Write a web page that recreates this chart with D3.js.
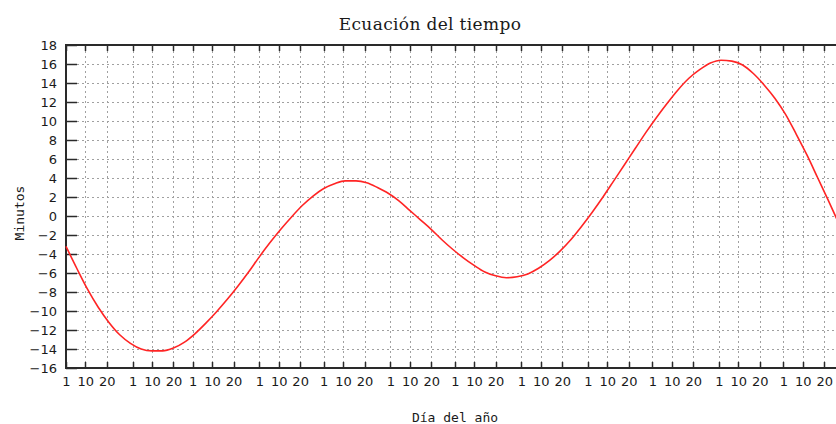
<!DOCTYPE html>
<html>
<head>
<meta charset="utf-8">
<script src="https://cdn.jsdelivr.net/npm/d3@7"></script>
<style>
  html, body { margin: 0; padding: 0; background: #fff; overflow: hidden; }
  svg { display: block; }
</style>
</head>
<body>
<svg id="chart" width="836" height="424"></svg>
<script>
// ---- data ----
const title = "Ecuación del tiempo";
const xTitle = "Día del año";
const yTitle = "Minutos";
const monthStarts = [1, 32, 60, 91, 121, 152, 182, 213, 244, 274, 305, 335];
const tickOffsets = [0, 9, 19];
const tickLabels = ["1", "10", "20"];
const yTicks = [-16, -14, -12, -10, -8, -6, -4, -2, 0, 2, 4, 6, 8, 10, 12, 14, 16, 18];
const days = [1, 6, 11, 16, 21, 26, 31, 36, 41, 46, 51, 56, 61, 66, 71, 76, 81, 86, 91, 96,
  101, 106, 111, 116, 121, 126, 131, 136, 141, 146, 151, 156, 161, 166, 171, 176, 181, 186, 191, 196,
  201, 206, 211, 216, 221, 226, 231, 236, 241, 246, 251, 256, 261, 266, 271, 276, 281, 286, 291, 296,
  301, 306, 311, 316, 321, 326, 331, 336, 341, 346, 351, 356, 361, 365];
const minutes = [-3.2, -5.5, -7.7, -9.6, -11.2, -12.5, -13.4, -14.0, -14.2, -14.2,
  -13.9, -13.3, -12.4, -11.3, -10.1, -8.8, -7.4, -5.9, -4.3, -2.8,
  -1.4, -0.1, 1.1, 2.1, 2.9, 3.4, 3.7, 3.7, 3.5, 3.0,
  2.4, 1.6, 0.6, -0.4, -1.4, -2.5, -3.5, -4.4, -5.2, -5.9,
  -6.3, -6.5, -6.4, -6.1, -5.5, -4.7, -3.7, -2.5, -1.1, 0.4,
  2.0, 3.7, 5.4, 7.1, 8.8, 10.4, 11.9, 13.3, 14.5, 15.4,
  16.1, 16.4, 16.3, 15.9, 15.0, 13.8, 12.4, 10.7, 8.6, 6.4,
  4.0, 1.6, -0.9, -2.9];

// ---- layout ----
const pL = 66, pT = 45, pB = 368, pR = 850;
const svg = d3.select("#chart");

const x = d3.scaleLinear().domain([1, 366]).range([pL, pR]);
const y = d3.scaleLinear().domain([-16, 18]).range([pB, pT]);

const xTickDays = [];
const xTickText = {};
monthStarts.forEach(m => tickOffsets.forEach((o, i) => { xTickDays.push(m + o); xTickText[m + o] = tickLabels[i]; }));

// grid
const grid = svg.append("g").attr("stroke", "#a0a0a0").attr("stroke-width", 1).attr("stroke-dasharray", "2,3").attr("fill", "none");
grid.selectAll(".gx").data(xTickDays.filter(d => d !== 1)).join("line")
  .attr("x1", d => Math.round(x(d)) + 0.5).attr("x2", d => Math.round(x(d)) + 0.5)
  .attr("y1", pT + 6).attr("y2", pB - 6);
grid.selectAll(".gy").data(yTicks.filter(d => d !== -16 && d !== 18)).join("line")
  .attr("x1", pL + 11).attr("x2", pR)
  .attr("y1", d => Math.round(y(d)) + 0.5).attr("y2", d => Math.round(y(d)) + 0.5);

// axes via d3 axis
const axisColor = "#2a2a2a";
const xAxisB = d3.axisBottom(x).tickValues(xTickDays).tickSize(0).tickPadding(9)
  .tickFormat(d => xTickText[d]);
const gxb = svg.append("g").attr("transform", `translate(0,${pB})`).call(xAxisB);
gxb.select(".domain").remove();
gxb.selectAll("text").attr("font-family", "DejaVu Sans").attr("font-size", 13).attr("fill", "#1a1a1a");

// tick marks bottom (inward) and top (inward)
svg.append("g").selectAll("line").data(xTickDays).join("line")
  .attr("x1", d => Math.round(x(d)) + 0.5).attr("x2", d => Math.round(x(d)) + 0.5)
  .attr("y1", pB).attr("y2", pB - 6).attr("stroke", axisColor).attr("stroke-width", 1.5);
svg.append("g").selectAll("line").data(xTickDays).join("line")
  .attr("x1", d => Math.round(x(d)) + 0.5).attr("x2", d => Math.round(x(d)) + 0.5)
  .attr("y1", pT).attr("y2", pT + 6).attr("stroke", axisColor).attr("stroke-width", 1.5);

const yAxis = d3.axisLeft(y).tickValues(yTicks).tickSize(0).tickPadding(9).tickFormat(d => d < 0 ? "\u2212" + Math.abs(d) : String(d));
const gy = svg.append("g").attr("transform", `translate(${pL},0)`).call(yAxis);
gy.select(".domain").remove();
gy.selectAll("text").attr("font-family", "DejaVu Sans").attr("font-size", 13).attr("fill", "#1a1a1a");

svg.append("g").selectAll("line").data(yTicks).join("line")
  .attr("x1", pL).attr("x2", pL + 11)
  .attr("y1", d => Math.round(y(d)) + 0.5).attr("y2", d => Math.round(y(d)) + 0.5)
  .attr("stroke", axisColor).attr("stroke-width", 1.5);

// frame
svg.append("rect").attr("x", pL).attr("y", pT).attr("width", pR - pL).attr("height", pB - pT)
  .attr("fill", "none").attr("stroke", axisColor).attr("stroke-width", 2);

// curve
const pts = days.map((d, i) => [d, minutes[i]]);
svg.append("path").datum(pts)
  .attr("d", d3.line().x(d => x(d[0])).y(d => y(d[1])).curve(d3.curveMonotoneX))
  .attr("fill", "none").attr("stroke", "#ff2424").attr("stroke-width", 1.6);

// titles
svg.append("text").attr("x", 430).attr("y", 30).attr("text-anchor", "middle")
  .attr("font-family", "DejaVu Serif").attr("font-size", 17).attr("letter-spacing", 0.35)
  .attr("fill", "#1a1a1a").text(title);
svg.append("text").attr("x", 455).attr("y", 422).attr("text-anchor", "middle")
  .attr("font-family", "DejaVu Sans Mono").attr("font-size", 13).attr("fill", "#1a1a1a").text(xTitle);
svg.append("text").attr("transform", "translate(24,213) rotate(-90)").attr("text-anchor", "middle")
  .attr("font-family", "DejaVu Sans Mono").attr("font-size", 13).attr("fill", "#1a1a1a").text(yTitle);
</script>
</body>
</html>
